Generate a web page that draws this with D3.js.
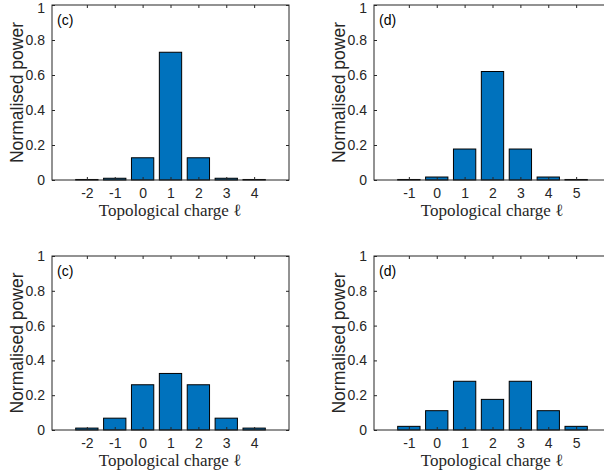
<!DOCTYPE html>
<html>
<head>
<meta charset="utf-8">
<script src="https://cdn.jsdelivr.net/npm/d3@7"></script>
<style>
  body { margin: 0; background: #fff; }
  svg { display: block; }
</style>
</head>
<body>
<div id="chart"></div>
<script>
// charges (x categories) for each panel
const chargesC = [-2, -1, 0, 1, 2, 3, 4];
const chargesD = [-1, 0, 1, 2, 3, 4, 5];

// normalised power
const powerTopC = [0.003, 0.01, 0.127, 0.73, 0.127, 0.01, 0.003];
const powerTopD = [0.003, 0.017, 0.177, 0.62, 0.177, 0.017, 0.003];
const powerBotC = [0.011, 0.068, 0.26, 0.325, 0.26, 0.068, 0.011];
const powerBotD = [0.021, 0.111, 0.28, 0.176, 0.28, 0.111, 0.021];

const yTicks = [0, 0.2, 0.4, 0.6, 0.8, 1];
const yTickLabels = ["0", "0.2", "0.4", "0.6", "0.8", "1"];

const W = 604, H = 472;
const axisColor = "#262626";
const barColor = "#0072BD";

const svg = d3.select("#chart")
    .append("svg")
    .attr("width", W)
    .attr("height", H);

function drawPanel(opts) {
    const { left, top, bottom, label, charges, values } = opts;
    const width = 237;
    const lo = charges[0] - 1.25, hi = charges[charges.length - 1] + 1.25;

    const x = d3.scaleLinear().domain([lo, hi]).range([left, left + width]);
    const y = d3.scaleLinear().domain([0, 1]).range([bottom, top]);
    const bw = (x(1) - x(0)) * 0.8;

    const g = svg.append("g");

    // bars
    g.selectAll(".bar")
        .data(charges.map((c, i) => ({ c, v: values[i] })))
        .enter().append("rect")
        .attr("class", "bar")
        .attr("x", d => x(d.c) - bw / 2)
        .attr("width", bw)
        .attr("y", d => y(d.v))
        .attr("height", d => y(0) - y(d.v))
        .attr("fill", barColor)
        .attr("stroke", "#000")
        .attr("stroke-width", 1);

    // box
    g.append("rect")
        .attr("x", left)
        .attr("y", top)
        .attr("width", width)
        .attr("height", bottom - top)
        .attr("fill", "none")
        .attr("stroke", axisColor)
        .attr("stroke-width", 1);

    // axes with inward ticks (plain hyphen minus like MATLAB)
    const fmt = d => yTickLabels[yTicks.indexOf(d)];
    const ax = [
        { gen: d3.axisBottom(x).tickValues(charges).tickSize(-3).tickPadding(8).tickFormat(d => String(d)), t: `translate(0,${bottom})` },
        { gen: d3.axisTop(x).tickValues(charges).tickSize(-3).tickFormat(""), t: `translate(0,${top})` },
        { gen: d3.axisLeft(y).tickValues(yTicks).tickSize(-3).tickPadding(7).tickFormat(fmt), t: `translate(${left},0)`, yaxis: true },
        { gen: d3.axisRight(y).tickValues(yTicks).tickSize(-3).tickFormat(""), t: `translate(${left + width},0)` }
    ];
    ax.forEach(a => {
        const ag = g.append("g").attr("transform", a.t).call(a.gen);
        ag.select(".domain").remove();
        ag.selectAll("line").attr("stroke", axisColor);
        ag.selectAll("text")
            .attr("fill", axisColor)
            .style("font-family", "Liberation Sans, Arial, sans-serif")
            .style("font-size", "14px");
        // keep the top "1" label fully inside the page
        if (a.yaxis && top < 10) {
            ag.selectAll(".tick text").filter(d => d === 1).attr("y", 3);
        }
    });

    // panel label
    g.append("text")
        .attr("x", left + 5)
        .attr("y", top + 20)
        .attr("fill", "#000")
        .style("font-family", "Liberation Sans, Arial, sans-serif")
        .style("font-size", "14px")
        .text(label);

    // x label
    g.append("text")
        .attr("x", left + width / 2 - 0.5)
        .attr("y", bottom + 36)
        .attr("text-anchor", "middle")
        .attr("fill", axisColor)
        .style("font-family", "Liberation Serif, DejaVu Serif, serif")
        .style("font-size", "17px")
        .text("Topological charge ℓ");

    // y label
    g.append("text")
        .attr("transform", `translate(${left - 29},${(top + bottom) / 2}) rotate(-90)`)
        .attr("text-anchor", "middle")
        .attr("fill", axisColor)
        .style("font-family", "Liberation Sans, Arial, sans-serif")
        .style("font-size", "17.5px")
        .text("Normalised power");
}

drawPanel({ left: 52, top: 5, bottom: 180, label: "(c)", charges: chargesC, values: powerTopC });
drawPanel({ left: 374, top: 5, bottom: 180, label: "(d)", charges: chargesD, values: powerTopD });
drawPanel({ left: 52, top: 256, bottom: 430, label: "(c)", charges: chargesC, values: powerBotC });
drawPanel({ left: 374, top: 256, bottom: 430, label: "(d)", charges: chargesD, values: powerBotD });
</script>
</body>
</html>
